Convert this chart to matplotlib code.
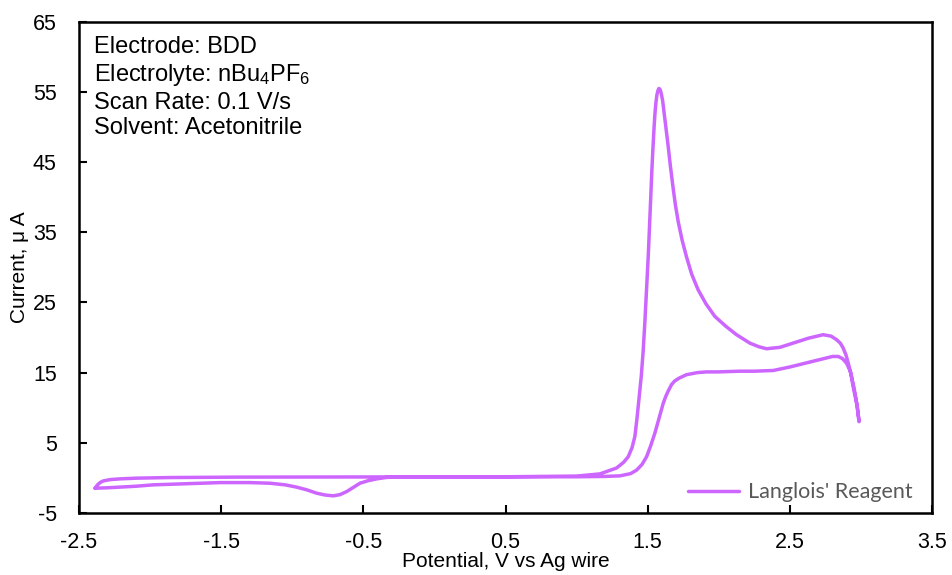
import matplotlib
matplotlib.use("Agg")
import matplotlib.pyplot as plt

plt.rcParams['font.family'] = ['Liberation Sans', 'DejaVu Sans']
plt.rcParams['mathtext.fontset'] = 'custom'
plt.rcParams['mathtext.rm'] = 'Liberation Sans'
plt.rcParams['mathtext.it'] = 'Liberation Sans'

# Forward sweep (positive direction): potential in V, current in µA
forward_v = [-2.387, -2.37, -2.35, -2.329, -2.28, -2.212, -2.10, -1.86, -1.39, -0.80,
             0.00, 0.50, 1.00, 1.164, 1.281, 1.33, 1.363, 1.39, 1.410, 1.425,
             1.440, 1.455, 1.468, 1.480, 1.492, 1.504, 1.514, 1.522, 1.529, 1.536,
             1.544, 1.551, 1.558, 1.565, 1.572, 1.579, 1.586, 1.593, 1.605, 1.616,
             1.630, 1.644, 1.660, 1.679, 1.695, 1.715, 1.742, 1.773, 1.81, 1.855,
             1.91, 1.973, 2.05, 2.125, 2.219, 2.28, 2.336, 2.43, 2.523, 2.63,
             2.734, 2.79, 2.828, 2.855, 2.875, 2.895, 2.910, 2.93, 2.945, 2.96,
             2.973, 2.987]
forward_i = [-1.48, -1.0, -0.65, -0.44, -0.25, -0.15, -0.05, 0.04, 0.1, 0.12,
             0.15, 0.15, 0.25, 0.56, 1.4, 2.2, 3.0, 4.3, 5.9, 8.5,
             11.5, 14.5, 18.0, 22.1, 26.8, 31.6, 36.2, 40.2, 43.6, 46.6,
             49.6, 51.9, 53.5, 54.6, 55.2, 55.5, 55.4, 55.0, 53.8, 52.0,
             49.8, 47.3, 44.4, 41.3, 38.9, 36.5, 33.9, 31.5, 29.0, 26.8,
             24.8, 23.0, 21.6, 20.4, 19.2, 18.7, 18.4, 18.6, 19.2, 19.9,
             20.4, 20.2, 19.7, 19.2, 18.5, 17.5, 16.4, 14.8, 13.0, 11.6,
             10.2, 8.0]

# Reverse sweep (negative direction)
reverse_v = [2.987, 2.973, 2.95, 2.925, 2.90, 2.87, 2.84, 2.80, 2.74, 2.617,
             2.50, 2.383, 2.25, 2.148, 1.996, 1.914, 1.85, 1.773, 1.72, 1.690,
             1.668, 1.645, 1.627, 1.609, 1.58, 1.551, 1.52, 1.492, 1.46, 1.422,
             1.38, 1.305, 1.20, 1.00, 0.50, 0.00, -0.266, -0.34, -0.407, -0.465,
             -0.524, -0.57, -0.617, -0.665, -0.712, -0.77, -0.828, -0.90, -0.969, -1.05,
             -1.157, -1.30, -1.508, -1.75, -1.977, -2.10, -2.212, -2.30, -2.387]
reverse_i = [8.0, 10.4, 13.0, 15.2, 16.3, 17.0, 17.3, 17.3, 17.0, 16.4,
             15.8, 15.3, 15.2, 15.2, 15.1, 15.1, 15.0, 14.7, 14.2, 13.8,
             13.3, 12.4, 11.6, 10.6, 8.5, 6.4, 4.5, 3.0, 1.9, 1.1,
             0.6, 0.28, 0.2, 0.15, 0.15, 0.15, 0.14, 0.05, -0.15, -0.4,
             -0.77, -1.35, -1.96, -2.4, -2.57, -2.45, -2.19, -1.7, -1.33, -1.0,
             -0.77, -0.68, -0.68, -0.85, -1.0, -1.2, -1.33, -1.42, -1.48]

x_ticks = [-2.5, -1.5, -0.5, 0.5, 1.5, 2.5, 3.5]
y_ticks = [-5, 5, 15, 25, 35, 45, 55, 65]

series_label = "Langlois' Reagent"
info_lines = ["Electrode: BDD",
              "Electrolyte: nBu$_4$PF$_6$",
              "Scan Rate: 0.1 V/s",
              "Solvent: Acetonitrile"]

line_color = '#CC66FF'

fig = plt.figure(figsize=(9.52, 5.75), dpi=100)
ax = fig.add_axes([0.083, 0.108, 0.896, 0.854])

ax.plot(forward_v + reverse_v[1:], forward_i + reverse_i[1:],
        color=line_color, lw=2.5, solid_joinstyle='round',
        solid_capstyle='round', label=series_label)

ax.set_xlim(-2.5, 3.5)
ax.set_ylim(-5, 65)
ax.set_xticks(x_ticks)
ax.set_yticks(y_ticks)
ax.set_xticklabels([f"{t:g}" for t in x_ticks])
ax.set_yticklabels([f"{t:g}" for t in y_ticks])
ax.tick_params(direction='in', length=6, width=1.5, labelsize=15.5)
ax.tick_params(axis='x', pad=14)
ax.tick_params(axis='y', pad=16)
for sp in ax.spines.values():
    sp.set_linewidth(1.8)

ax.set_xlabel("Potential, V vs Ag wire", fontsize=15, labelpad=-1)
ax.set_ylabel("Current, μ A", fontsize=15, labelpad=3)

ax.text(0.018, 0.972, "\n".join(info_lines), transform=ax.transAxes,
        fontsize=17, va='top', ha='left', linespacing=1.22)

leg = ax.legend(loc='lower right', bbox_to_anchor=(0.987, 0.004),
                frameon=False, handlelength=2.35,
                handletextpad=0.4, borderaxespad=0.0,
                prop={'family': 'Lato', 'size': 15.5})
for t in leg.get_texts():
    t.set_color('#595959')

fig.savefig("out.png", dpi=100)
